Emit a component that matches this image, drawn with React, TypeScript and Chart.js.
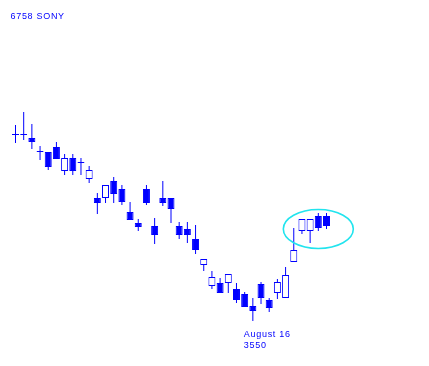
import React, { useEffect, useRef } from "react";
import { Chart, registerables } from "chart.js";

Chart.register(...registerables);

const TITLE = "6758 SONY";
const LABELS = Array.from({ length: 39 }, (_, i) => String(i + 1));
const OPENS = [
  4480, 4480, 4465, 4395, 4395, 4420, 4300, 4365, 4340, 4260,
  4165, 4165, 4250, 4210, 4095, 4040, 4210, 4025, 4165, 4165,
  4025, 4010, 3960, 3830, 3725, 3740, 3740, 3710, 3685, 3625,
  3735, 3655, 3690, 3665, 3845, 4000, 4000, 4075, 4075,
];
const CLOSES = [
  4480, 4480, 4445, 4395, 4320, 4360, 4365, 4300, 4340, 4305,
  4140, 4230, 4185, 4145, 4055, 4020, 4140, 3980, 4140, 4110,
  3980, 3980, 3905, 3860, 3770, 3690, 3785, 3655, 3620, 3600,
  3665, 3615, 3745, 3780, 3905, 4060, 4060, 4015, 4025,
];
const HIGHS = [
  4530, 4595, 4535, 4425, 4395, 4445, 4385, 4385, 4365, 4325,
  4190, 4230, 4270, 4230, 4145, 4060, 4230, 4065, 4250, 4165,
  4045, 4045, 4030, 3860, 3800, 3765, 3785, 3740, 3695, 3665,
  3745, 3665, 3760, 3820, 4015, 4060, 4060, 4090, 4090,
];
const LOWS = [
  4440, 4455, 4410, 4355, 4305, 4360, 4280, 4280, 4280, 4240,
  4085, 4140, 4140, 4130, 4055, 4000, 4130, 3935, 4125, 4040,
  3960, 3940, 3885, 3800, 3710, 3690, 3690, 3640, 3620, 3550,
  3635, 3595, 3660, 3665, 3845, 3985, 3940, 4000, 4010,
];
const LOW_INDEX = 29;
const LOW_DATE = "August 16";
const Y_MIN = 3325;
const Y_MAX = 5155;
const CIRCLE_INDEX = 37;
const CIRCLE_PRICE = 4010;

const BLUE = "#0000ff";
const CYAN = "#22e4ee";

export default function App() {
  const ref = useRef<HTMLCanvasElement | null>(null);

  useEffect(() => {
    const canvas = ref.current;
    if (!canvas) return;

    const bodies = OPENS.map((o, i) => [o, CLOSES[i]]);
    const wicks = LOWS.map((l, i) => [l, HIGHS[i]]);
    const bodyFill = OPENS.map((o, i) => (CLOSES[i] > o ? "#ffffff" : BLUE));

    const overlay = {
      id: "overlay",
      afterDatasetsDraw(chart: any) {
        const ctx = chart.ctx;
        const xs = chart.scales.x;
        const ys = chart.scales.y;
        ctx.save();
        const cx = xs.getPixelForValue(CIRCLE_INDEX);
        const cy = ys.getPixelForValue(CIRCLE_PRICE);
        ctx.beginPath();
        ctx.ellipse(cx, cy, 35, 19.5, 0, 0, Math.PI * 2);
        ctx.strokeStyle = CYAN;
        ctx.lineWidth = 1.6;
        ctx.stroke();
        ctx.fillStyle = BLUE;
        ctx.font = '9px "Liberation Sans", Arial, sans-serif';
        try { (ctx as any).letterSpacing = "0.7px"; } catch (e) {}
        ctx.textAlign = "left";
        ctx.textBaseline = "alphabetic";
        ctx.fillText(TITLE, 10.5, 19);
        const lx = xs.getPixelForValue(LOW_INDEX) - 9;
        const ly = ys.getPixelForValue(LOWS[LOW_INDEX]);
        ctx.fillText(LOW_DATE, lx, ly + 16);
        ctx.fillText(String(LOWS[LOW_INDEX]), lx, ly + 27);
        ctx.restore();
      },
    };

    const chart = new Chart(canvas, {
      type: "bar",
      data: {
        labels: LABELS,
        datasets: [
          {
            label: "body",
            data: bodies as any,
            backgroundColor: bodyFill,
            borderColor: BLUE,
            borderWidth: 1,
            borderSkipped: false,
            barThickness: 7,
            minBarLength: 1,
            inflateAmount: 0,
            grouped: false,
            order: 0,
          } as any,
          {
            label: "wick",
            data: wicks as any,
            backgroundColor: BLUE,
            borderWidth: 0,
            barThickness: 1,
            inflateAmount: 0,
            grouped: false,
            order: 1,
          } as any,
        ],
      },
      options: {
        responsive: false,
        animation: false,
        devicePixelRatio: 1,
        layout: { padding: { left: 11.408, right: 98.408, top: 0, bottom: 0 } },
        plugins: {
          legend: { display: false },
          tooltip: { enabled: false },
          title: { display: false },
        },
        scales: {
          x: { type: "category", display: false, offset: true },
          y: { type: "linear", display: false, min: Y_MIN, max: Y_MAX },
        },
      },
      plugins: [overlay],
    });

    return () => chart.destroy();
  }, []);

  return (
    <div style={{ position: "absolute", left: 0, top: 0, width: 429, height: 366, background: "#fff" }}>
      <canvas ref={ref} width={429} height={366} style={{ display: "block" }} />
    </div>
  );
}
